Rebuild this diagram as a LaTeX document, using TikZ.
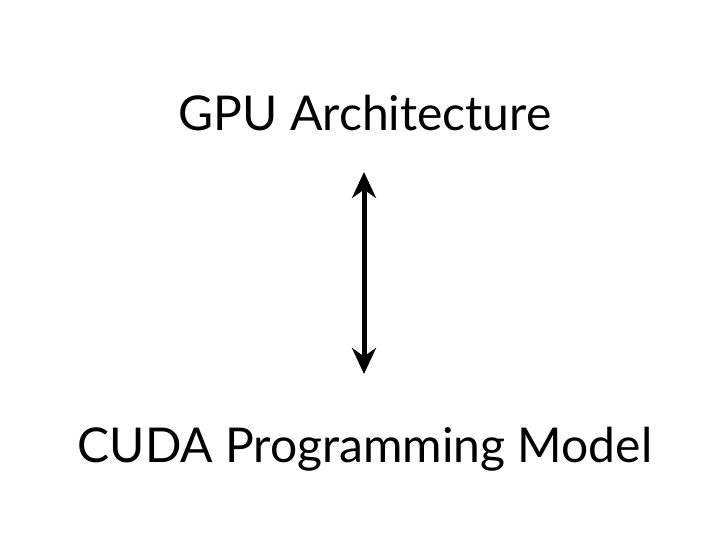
\documentclass[tikz,border=0pt]{standalone}
\usepackage{fontspec}
\setmainfont{Lato}
\usepackage{tikz}
\usetikzlibrary{arrows.meta, positioning}
\tikzstyle{label}=[inner sep=0pt, anchor=base, font=\fontsize{48}{56}\selectfont]
\tikzstyle{mainedge}=[{Stealth[length=26pt,width=24pt]}-{Stealth[length=26pt,width=24pt]}, line width=5pt]

\begin{document}
\begin{tikzpicture}[x=1pt,y=1pt]
\useasboundingbox (0,0) rectangle (728,-546);
% titles
\node[label] (gpu) at (365,-130) {GPU Architecture};
\node[label] (cuda) at (365,-462) {CUDA Programming Model};
% arrow between them
\coordinate (atop) at (364,-172);
\coordinate (abot) at (364,-374);
\draw[mainedge] (atop) -- (abot);

\end{tikzpicture}
\end{document}
